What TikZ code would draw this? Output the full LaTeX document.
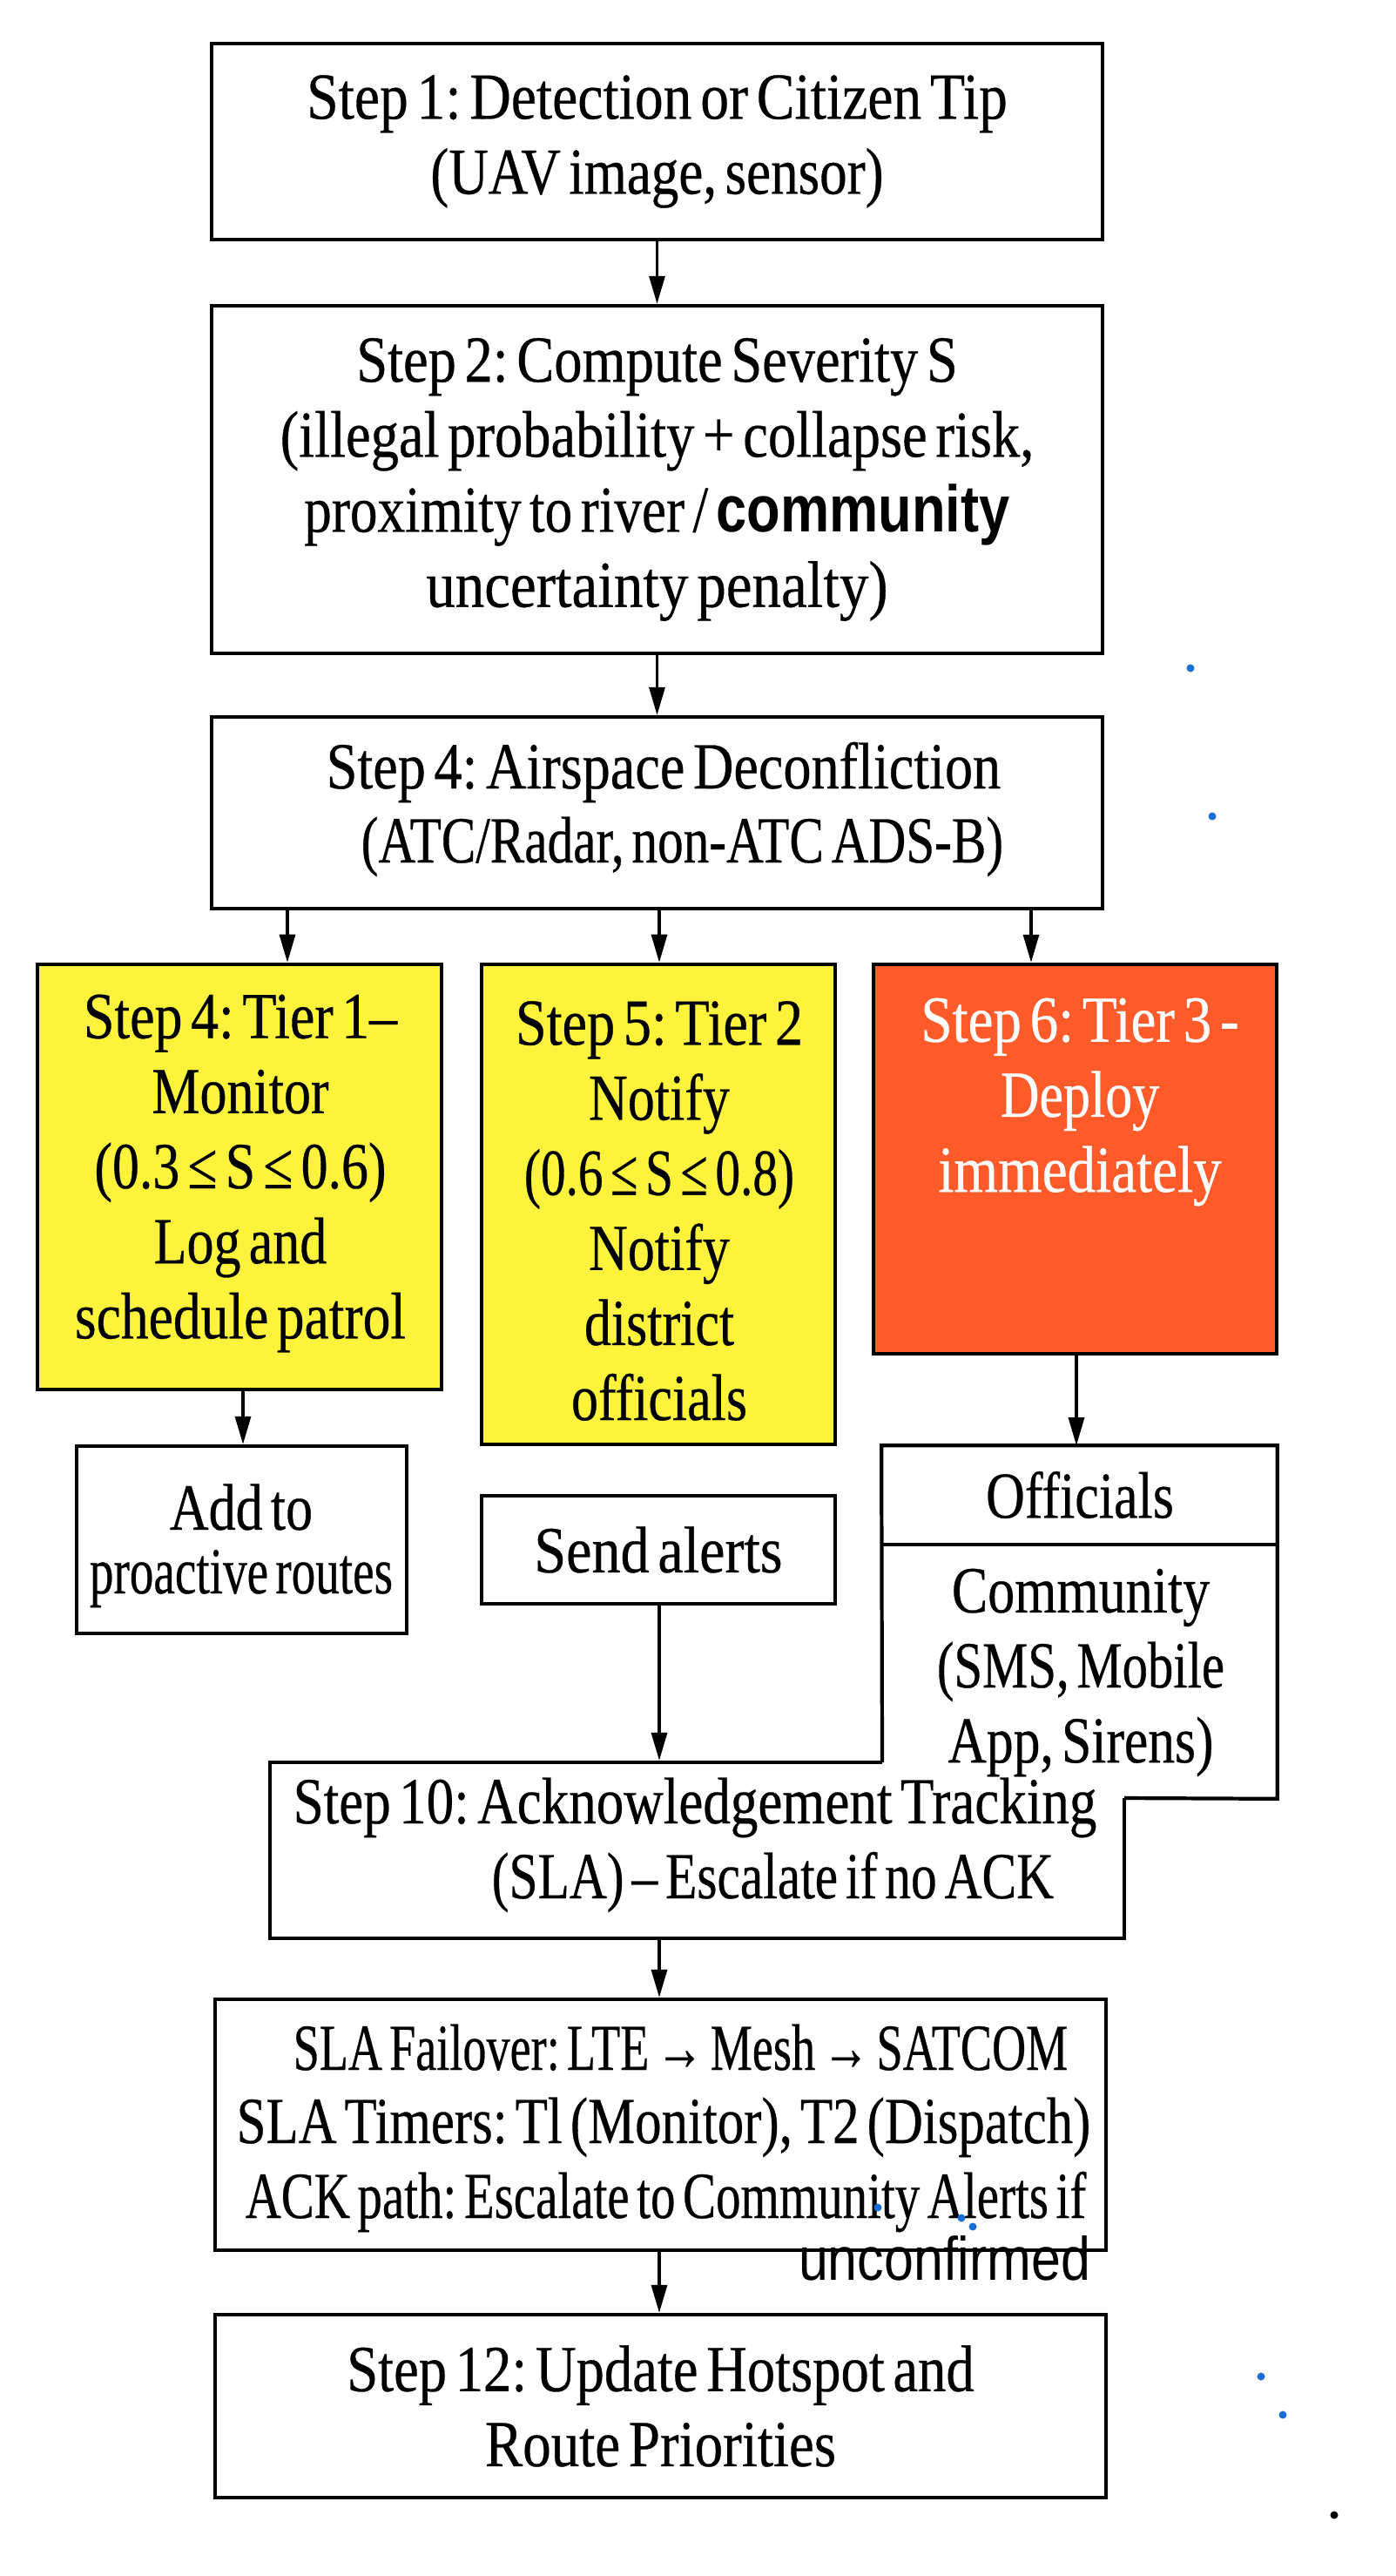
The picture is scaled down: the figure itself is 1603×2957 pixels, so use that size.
\documentclass[tikz,border=0pt]{standalone}
\usepackage{fontspec}
\usepackage{graphicx}
\setmainfont{Liberation Serif}[FakeStretch=0.82,WordSpace=0.6,FakeBold=0.4]
\newfontfamily\sansc{Liberation Sans}[FakeStretch=0.82]
\usetikzlibrary{arrows.meta}
\definecolor{ylw}{HTML}{FDF23C}
\definecolor{org}{HTML}{FF5B2A}
\definecolor{dotb}{HTML}{1A6FD6}
\newcommand{\fitw}[2]{\resizebox{#1}{\height}{#2}}
\frenchspacing
\begin{document}
\frenchspacing
\begin{tikzpicture}[x=0.01cm,y=-0.01cm,
  box/.style={draw=black,line width=1.2pt,rectangle,inner sep=0pt,fill=white},
  txt/.style={font=\fontsize{21.5}{24.5}\selectfont\frenchspacing,align=center,inner sep=0pt},
  arr/.style={line width=0.9pt,-{Triangle[length=0.32cm,width=0.18cm]}},
  dot/.style={circle,fill=dotb,inner sep=0pt,minimum size=0.09cm}]
\useasboundingbox (0,0) rectangle (1603,2957);
\fill[white] (0,0) rectangle (1603,2957);
% main boxes
\node[box,minimum width=10.23cm,minimum height=2.25cm] (b1) at (754.5,162.5) {};
\node[box,minimum width=10.23cm,minimum height=3.99cm] (b2) at (754.5,550.5) {};
\node[box,minimum width=10.23cm,minimum height=2.20cm] (b3) at (754.5,933) {};
\node[box,fill=ylw,minimum width=4.64cm,minimum height=4.88cm] (y1) at (275,1351) {};
\node[box,fill=ylw,minimum width=4.06cm,minimum height=5.51cm] (y2) at (756,1382.5) {};
\node[box,fill=org,minimum width=4.63cm,minimum height=4.47cm] (or) at (1234.5,1330.5) {};
\node[box,minimum width=3.79cm,minimum height=2.15cm] (add) at (277.5,1767.5) {};
\node[box,minimum width=4.06cm,minimum height=1.24cm] (send) at (756,1779) {};
\node[box,minimum width=9.81cm,minimum height=2.02cm] (s10) at (800.5,2124) {};
\node[rectangle,fill=white,inner sep=0pt,minimum width=4.53cm,minimum height=4.04cm] (off) at (1239.5,1862) {};
\draw[line width=1.2pt] (1013,2023) -- (off.north west) -- (off.north east) -- (off.south east) -- (1291,2064);
\draw[line width=1.2pt] (1013,1773) -- (1466,1773);
\node[box,minimum width=10.23cm,minimum height=2.88cm] (s11) at (758.5,2439) {};
\node[box,minimum width=10.23cm,minimum height=2.10cm] (s12) at (758.5,2762) {};
% texts
\node[txt] at (b1) {\fitw{8.04cm}{Step 1: Detection or Citizen Tip}\\\fitw{5.2cm}{(UAV image, sensor)}};
\node[txt] at (b2) {\fitw{6.9cm}{Step 2: Compute Severity S}\\\fitw{8.65cm}{(illegal probability + collapse risk,}\\\fitw{8.1cm}{proximity to river / {\sansc\bfseries community}}\\\fitw{5.3cm}{uncertainty penalty)}};
\node[txt,anchor=base west] at (374,905) {\fitw{7.74cm}{Step 4: Airspace Deconfliction}};
\node[txt,anchor=base west] at (414,990) {\fitw{7.37cm}{(ATC/Radar, non-ATC ADS-B)}};
\node[txt] at (276,1347) {\fitw{3.6cm}{Step 4: Tier 1--}\\Monitor\\\fitw{3.35cm}{(0.3 ≤ S ≤ 0.6)}\\Log and\\\fitw{3.8cm}{schedule patrol}};
\node[txt] at (757,1390) {\fitw{3.3cm}{Step 5: Tier 2}\\Notify\\\fitw{3.1cm}{(0.6 ≤ S ≤ 0.8)}\\Notify\\district\\officials};
\node[txt,text=white,anchor=north] at (1240,1145) {\fitw{3.65cm}{Step 6: Tier 3 -}\\Deploy\\\fitw{3.25cm}{immediately}};
\node[txt] at (277,1730) {Add to};
\node[txt] at (277,1812) {\fitw{3.48cm}{proactive routes}};
\node[txt] at (send) {\fitw{2.85cm}{Send alerts}};
\node[txt] at (1240,1716) {Officials};
\node[txt] at (1241,1920) {Community\\\fitw{3.3cm}{(SMS, Mobile}\\\fitw{3.05cm}{App, Sirens)}};
\node[txt,anchor=base west] at (336,2093) {\fitw{9.22cm}{Step 10: Acknowledgement Tracking}};
\node[txt,anchor=base west] at (564,2179) {\fitw{6.45cm}{(SLA) -- Escalate if no ACK}};
\node[txt,anchor=base west] at (336,2376) {\fitw{8.89cm}{SLA Failover: LTE → Mesh → SATCOM}};
\node[txt,anchor=base west] at (271,2460) {\fitw{9.8cm}{SLA Timers: Tl (Monitor), T2 (Dispatch)}};
\node[txt,anchor=base west] at (281,2546) {\fitw{9.65cm}{ACK path: Escalate to Community Alerts if}};
\node[txt,anchor=base east,font=\sansc\fontsize{20}{24}\selectfont] at (1253,2617) {\fitw{3.35cm}{unconfirmed}};
\node[txt] at (s12) {\fitw{7.2cm}{Step 12: Update Hotspot and}\\\fitw{4.03cm}{Route Priorities}};
% connectors
\coordinate (a1) at (330,0);
\coordinate (a2) at (757,0);
\coordinate (a3) at (1184,0);
\coordinate (a4) at (279,0);
\coordinate (a5) at (1236,0);
\draw[arr] (b1.south) -- (b2.north);
\draw[arr] (b2.south) -- (b3.north);
\draw[arr] (b3.south -| a1) -- (y1.north -| a1);
\draw[arr] (b3.south -| a2) -- (y2.north -| a2);
\draw[arr] (b3.south -| a3) -- (or.north -| a3);
\draw[arr] (y1.south -| a4) -- (add.north -| a4);
\draw[arr] (or.south -| a5) -- (off.north -| a5);
\draw[arr] (send.south -| a2) -- (s10.north -| a2);
\draw[arr] (s10.south -| a2) -- (s11.north -| a2);
\draw[arr] (s11.south -| a2) -- (s12.north -| a2);
% stray dots
\node[dot] (d1) at (1367,767) {};
\node[dot] (d2) at (1392,937) {};
\node[dot] (d3) at (1448,2728) {};
\node[dot] (d4) at (1473,2772) {};
\node[dot] (d5) at (1008,2534) {};
\node[dot] (d6) at (1104,2546) {};
\node[dot] (d7) at (1117,2556) {};
\node[dot,fill=black] (d8) at (1532,2887) {};
\end{tikzpicture}
\end{document}
